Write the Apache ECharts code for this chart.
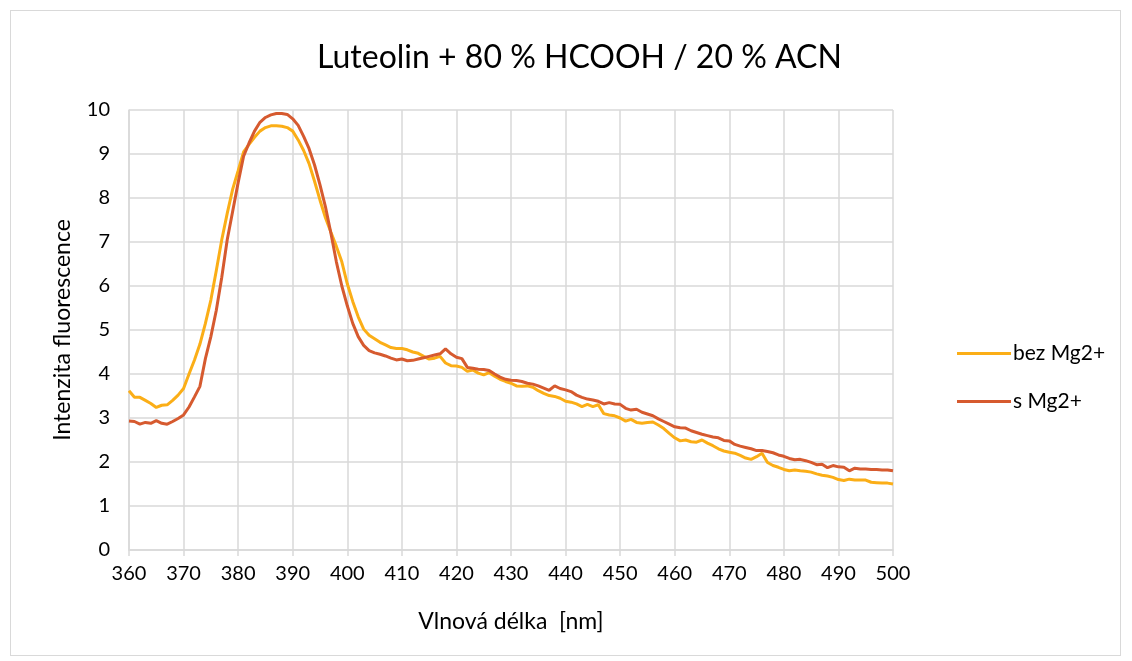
<!DOCTYPE html>
<html>
<head>
<meta charset="utf-8">
<script src="https://cdn.jsdelivr.net/npm/echarts@6/dist/echarts.min.js"></script>
<style>
  html, body { margin: 0; padding: 0; background: #fff; }
  #frame { position: absolute; left: 10px; top: 10px; width: 1111px; height: 646px; border: 1px solid #d9d9d9; box-sizing: border-box; }
  #chart { width: 1132px; height: 661px; }
</style>
</head>
<body>
<div id="frame"></div>
<div id="chart"></div>
<script>
// vlnová délka 360–500 nm, krok 1 nm
const startNm = 360
const wavelengths = []
for (let i = 0; i <= 140; i++) wavelengths.push(startNm + i)

// bez Mg2+
const bezMg = [
  3.62, 3.47, 3.47, 3.40, 3.33, 3.24, 3.29, 3.30, 3.40, 3.52,
  3.67, 4.00, 4.32, 4.68, 5.15, 5.68, 6.35, 7.05, 7.65, 8.20,
  8.62, 9.05, 9.22, 9.38, 9.52, 9.60, 9.64, 9.64, 9.63, 9.60,
  9.52, 9.32, 9.08, 8.78, 8.38, 7.95, 7.55, 7.22, 6.90, 6.55,
  6.05, 5.65, 5.30, 5.02, 4.88, 4.80, 4.72, 4.66, 4.60, 4.58,
  4.58, 4.55, 4.50, 4.47, 4.40, 4.34, 4.36, 4.40, 4.25, 4.19,
  4.18, 4.15, 4.06, 4.09, 4.02, 3.98, 4.03, 3.95, 3.88, 3.83,
  3.79, 3.73, 3.72, 3.73, 3.70, 3.62, 3.56, 3.51, 3.49, 3.45,
  3.38, 3.36, 3.32, 3.26, 3.31, 3.26, 3.30, 3.10, 3.07, 3.05,
  3.00, 2.93, 2.97, 2.90, 2.88, 2.90, 2.91, 2.84, 2.76, 2.65,
  2.55, 2.48, 2.50, 2.46, 2.45, 2.50, 2.43, 2.37, 2.30, 2.25,
  2.22, 2.20, 2.15, 2.09, 2.06, 2.12, 2.20, 1.99, 1.92, 1.88,
  1.83, 1.80, 1.82, 1.80, 1.79, 1.77, 1.73, 1.70, 1.68, 1.65,
  1.60, 1.58, 1.61, 1.59, 1.59, 1.59, 1.54, 1.53, 1.52, 1.52,
  1.50
]

// s Mg2+
const sMg = [
  2.93, 2.92, 2.86, 2.90, 2.88, 2.94, 2.88, 2.86, 2.92, 2.99,
  3.07, 3.25, 3.48, 3.72, 4.35, 4.85, 5.45, 6.20, 7.05, 7.70,
  8.35, 8.95, 9.25, 9.52, 9.72, 9.83, 9.89, 9.92, 9.92, 9.90,
  9.80, 9.65, 9.40, 9.12, 8.75, 8.30, 7.80, 7.20, 6.55, 6.00,
  5.55, 5.15, 4.85, 4.65, 4.53, 4.48, 4.45, 4.41, 4.36, 4.32,
  4.34, 4.30, 4.31, 4.34, 4.37, 4.40, 4.43, 4.46, 4.57, 4.46,
  4.38, 4.35, 4.15, 4.13, 4.11, 4.10, 4.08, 4.00, 3.93, 3.88,
  3.86, 3.85, 3.83, 3.79, 3.77, 3.73, 3.68, 3.63, 3.73, 3.67,
  3.64, 3.60, 3.52, 3.47, 3.43, 3.41, 3.38, 3.32, 3.35, 3.32,
  3.31, 3.22, 3.18, 3.20, 3.13, 3.09, 3.05, 2.98, 2.92, 2.86,
  2.80, 2.78, 2.77, 2.71, 2.67, 2.63, 2.60, 2.57, 2.55, 2.49,
  2.48, 2.40, 2.36, 2.33, 2.30, 2.26, 2.26, 2.24, 2.21, 2.16,
  2.13, 2.08, 2.05, 2.06, 2.03, 1.99, 1.94, 1.95, 1.87, 1.92,
  1.89, 1.88, 1.80, 1.86, 1.84, 1.84, 1.83, 1.83, 1.82, 1.82,
  1.80
]

const seriesNames = ['bez Mg2+', 's Mg2+']
const seriesColors = ['#FBAE17', '#D65A2F']

const font = 'Lato, "Open Sans", sans-serif'

const pairs = arr => wavelengths.map((x, i) => [x, arr[i]])

let chart = echarts.init(document.getElementById('chart'))
let option = {
  animation: false,
  color: seriesColors,
  title: {
    text: 'Luteolin + 80 % HCOOH / 20 % ACN',
    left: 312,
    top: 37,
    textStyle: { fontFamily: font, fontSize: 32, fontWeight: 'normal', color: '#000' }
  },
  legend: {
    orient: 'vertical',
    left: 952,
    top: 337,
    itemWidth: 54,
    itemHeight: 3,
    itemGap: 25,
    icon: 'rect',
    textStyle: { fontFamily: font, fontSize: 21, lineHeight: 23, color: '#000', padding: [0, 0, 0, -3] },
    data: seriesNames
  },
  grid: { left: 129, right: 239, top: 110, bottom: 111 },
  xAxis: {
    type: 'value',
    min: 360,
    max: 500,
    interval: 10,
    name: 'Vlnová délka  [nm]',
    nameLocation: 'middle',
    nameGap: 60,
    nameTextStyle: { fontFamily: font, fontSize: 23, color: '#000' },
    axisLine: { show: true, lineStyle: { color: '#d9d9d9', width: 1.5 } },
    axisTick: { show: true, length: 6, lineStyle: { color: '#d9d9d9', width: 1.5 } },
    axisLabel: { fontFamily: font, fontSize: 20, color: '#000', margin: 14 },
    splitLine: { show: true, lineStyle: { color: '#d9d9d9', width: 1.5 } }
  },
  yAxis: {
    type: 'value',
    min: 0,
    max: 10,
    interval: 1,
    name: 'Intenzita fluorescence',
    nameLocation: 'middle',
    nameGap: 55,
    nameTextStyle: { fontFamily: font, fontSize: 23, color: '#000' },
    axisLine: { show: true, lineStyle: { color: '#d9d9d9', width: 1.5 } },
    axisTick: { show: false },
    axisLabel: { fontFamily: font, fontSize: 20, color: '#000', margin: 19 },
    splitLine: { show: true, lineStyle: { color: '#d9d9d9', width: 1.5 } }
  },
  series: [
    {
      name: seriesNames[0],
      type: 'line',
      showSymbol: false,
      symbol: 'none',
      lineStyle: { width: 3 },
      data: pairs(bezMg)
    },
    {
      name: seriesNames[1],
      type: 'line',
      showSymbol: false,
      symbol: 'none',
      lineStyle: { width: 3 },
      data: pairs(sMg)
    }
  ]
}
chart.setOption(option)
</script>
</body>
</html>
